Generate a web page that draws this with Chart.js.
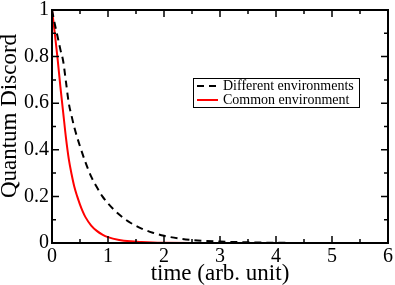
<!DOCTYPE html>
<html>
<head>
<meta charset="utf-8">
<script src="https://cdn.jsdelivr.net/npm/chart.js@4.4.0/dist/chart.umd.min.js"></script>
<style>
  html, body { margin: 0; padding: 0; background: #fff; }
  #wrap { width: 395px; height: 285px; }
</style>
</head>
<body>
<div id="wrap"><canvas id="discordChart"></canvas></div>
<script>
// values
const seriesLabels = ['Different environments', 'Common environment'];

const timeDifferent = [0, 0.05, 0.1, 0.15, 0.2, 0.25, 0.3, 0.35, 0.4, 0.5, 0.6, 0.7, 0.8, 0.9, 1.0,
    1.2, 1.4, 1.6, 1.8, 2.0, 2.25, 2.5, 2.75, 3.0, 3.5, 4.0, 5.0, 6.0];
const discordDifferent = [1, 0.94, 0.885, 0.83, 0.78, 0.69, 0.6, 0.545, 0.495, 0.415, 0.345, 0.285, 0.24, 0.2, 0.17,
    0.122, 0.087, 0.062, 0.044, 0.031, 0.02, 0.013, 0.009, 0.006, 0.003, 0.001, 0, 0];

const timeCommon = [0, 0.05, 0.1, 0.15, 0.2, 0.25, 0.3, 0.35, 0.4, 0.45, 0.5, 0.55, 0.6, 0.7, 0.8, 0.9, 1.0,
    1.2, 1.4, 1.6, 1.8, 2.0, 2.5, 3.0, 4.0, 5.0, 6.0];
const discordCommon = [1, 0.9, 0.79, 0.67, 0.56, 0.45, 0.36, 0.295, 0.24, 0.2, 0.165, 0.135, 0.11, 0.075, 0.052, 0.036, 0.025,
    0.013, 0.007, 0.004, 0.002, 0.001, 0, 0, 0, 0, 0];

const xTicks = [0, 1, 2, 3, 4, 5, 6];
const yTicks = [0, 0.2, 0.4, 0.6, 0.8, 1];
const xMinor = [0.5, 1.5, 2.5, 3.5, 4.5, 5.5];
const yMinor = [0.1, 0.3, 0.5, 0.7, 0.9];

const xTitle = 'time (arb. unit)';
const yTitle = 'Quantum Discord';

const serif = '"Liberation Serif", "Times New Roman", serif';

function pairs(xs, ys) {
    return xs.map((x, i) => ({ x: x, y: ys[i] }));
}

// frame, inward ticks, axis titles and the legend box
const framePlugin = {
    id: 'frame',
    afterDraw(chart) {
        const ctx = chart.ctx;
        const a = chart.chartArea;
        const xs = chart.scales.x;
        const ys = chart.scales.y;
        ctx.save();
        ctx.strokeStyle = '#000';
        ctx.lineWidth = 1.5;
        ctx.beginPath();
        xTicks.concat(xMinor).forEach(v => {
            const len = xTicks.includes(v) ? 7 : 4;
            const px = xs.getPixelForValue(v);
            ctx.moveTo(px, a.bottom); ctx.lineTo(px, a.bottom - len);
            ctx.moveTo(px, a.top); ctx.lineTo(px, a.top + len);
        });
        yTicks.concat(yMinor).forEach(v => {
            const len = yTicks.includes(v) ? 7 : 4;
            const py = ys.getPixelForValue(v);
            ctx.moveTo(a.left, py); ctx.lineTo(a.left + len, py);
            ctx.moveTo(a.right, py); ctx.lineTo(a.right - len, py);
        });
        ctx.stroke();
        ctx.lineWidth = 2;
        ctx.strokeRect(a.left, a.top, a.right - a.left, a.bottom - a.top);

        // axis titles
        ctx.fillStyle = '#000';
        ctx.font = '23px ' + serif;
        ctx.textAlign = 'center';
        ctx.textBaseline = 'middle';
        ctx.fillText(xTitle, (a.left + a.right) / 2, 274);
        ctx.translate(10, 116);
        ctx.rotate(-Math.PI / 2);
        ctx.fillText(yTitle, 0, 0);
        ctx.restore();

        // legend
        ctx.save();
        const bx = 193, by = 78, bw = 166, bh = 29;
        ctx.fillStyle = '#fff';
        ctx.fillRect(bx, by, bw, bh);
        ctx.strokeStyle = '#000';
        ctx.lineWidth = 1;
        ctx.strokeRect(bx + 0.5, by + 0.5, bw, bh);
        ctx.font = '14px ' + serif;
        ctx.textAlign = 'left';
        ctx.textBaseline = 'middle';
        chart.data.datasets.forEach((ds, i) => {
            const ry = by + 8 + i * 14;
            ctx.strokeStyle = ds.borderColor;
            ctx.lineWidth = 2;
            ctx.setLineDash(ds.borderDash || []);
            ctx.beginPath();
            ctx.moveTo(bx + 4, ry); ctx.lineTo(bx + 25, ry);
            ctx.stroke();
            ctx.setLineDash([]);
            ctx.fillStyle = '#000';
            ctx.fillText(ds.label, bx + 30, ry);
        });
        ctx.restore();
    }
};

const discordCtx = document.getElementById('discordChart').getContext('2d');
new Chart(discordCtx, {
    type: 'scatter',
    data: {
        datasets: [{
            label: seriesLabels[0],
            data: pairs(timeDifferent, discordDifferent),
            showLine: true,
            borderColor: '#000000',
            borderWidth: 2,
            borderDash: [7, 5],
            pointRadius: 0,
            cubicInterpolationMode: 'monotone'
        }, {
            label: seriesLabels[1],
            data: pairs(timeCommon, discordCommon),
            showLine: true,
            borderColor: '#ff0000',
            borderWidth: 2,
            pointRadius: 0,
            cubicInterpolationMode: 'monotone'
        }]
    },
    options: {
        responsive: true,
        maintainAspectRatio: false,
        animation: false,
        events: [],
        layout: { padding: { left: 0, right: 6, top: 0, bottom: 0 } },
        plugins: {
            legend: { display: false },
            tooltip: { enabled: false }
        },
        scales: {
            x: {
                type: 'linear',
                min: 0,
                max: 6,
                afterBuildTicks: s => { s.ticks = xTicks.map(v => ({ value: v })); },
                afterFit: s => { s.height = 42; },
                grid: { display: false, tickLength: 0 },
                border: { display: false },
                ticks: {
                    color: '#000',
                    padding: 2,
                    maxRotation: 0,
                    font: { family: serif, size: 20 }
                }
            },
            y: {
                min: 0,
                max: 1,
                afterBuildTicks: s => { s.ticks = yTicks.map(v => ({ value: v })); },
                afterFit: s => { s.width = 52; },
                grid: { display: false, tickLength: 0 },
                border: { display: false },
                ticks: {
                    color: '#000',
                    padding: 3,
                    font: { family: serif, size: 20, lineHeight: 0.7 },
                    callback: v => String(v)
                }
            }
        }
    },
    plugins: [framePlugin]
});
</script>
</body>
</html>
